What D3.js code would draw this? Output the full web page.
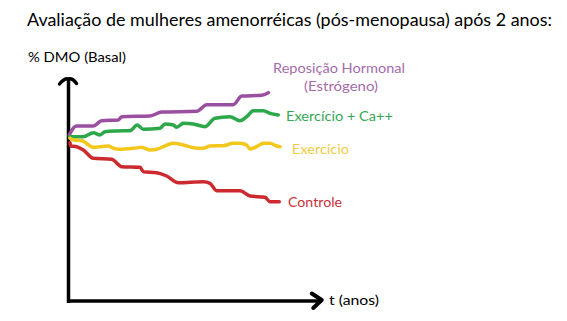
<!DOCTYPE html>
<html><head><meta charset="utf-8">
<script src="https://cdn.jsdelivr.net/npm/d3@7"></script>
<style>html,body{margin:0;padding:0;background:#fff;}svg{display:block;}</style>
</head><body>
<svg id="c" width="567" height="321"></svg>
<script>
// time in months, value in % of baseline BMD
const reposicao = [[0.15,100.2],[0.69,100.97],[0.99,101.1],[2.89,101.1],[3.85,101.63],[5.75,101.7],[6.14,102.03],[9.37,102.1],[10.71,102.5],[14.71,102.57],[15.85,103.23],[18.89,103.23],[19.85,104.1],[22.14,104.17],[22.89,104.43]];
const exercicioCa = [[0.15,100.03],[1.75,100.03],[2.89,100.43],[3.66,100.2],[4.23,100.53],[5.57,100.6],[7.09,100.63],[7.92,101.2],[8.61,100.77],[10.51,100.87],[11.09,101.3],[12.03,101.2],[12.42,100.97],[13.18,101.37],[14.32,101.3],[15.66,101.03],[16.8,101.87],[18.51,102.03],[19.66,101.63],[20.42,102.03],[21.18,102.63],[22.32,102.63],[23.09,102.37],[24.03,102.2]];
const exercicio = [[0.23,99.87],[0.61,99.7],[1.57,99.63],[2.89,98.97],[3.66,99.03],[4.61,99.1],[5.18,98.87],[5.94,98.77],[7.46,98.87],[8.42,98.97],[9.37,98.7],[10.14,98.77],[10.89,99.03],[12.03,99.37],[13.18,99.2],[14.32,98.93],[15.46,98.87],[16.23,99.1],[17.75,99.13],[18.89,99.37],[19.66,99.37],[20.42,99.2],[20.8,98.8],[21.57,99.03],[22.32,99.37],[23.09,99.37],[23.85,99.1],[24.23,99.03]];
const controle = [[0.23,99.43],[0.31,99.1],[0.99,99.03],[1.75,98.7],[2.89,97.87],[4.99,97.77],[6.14,97.03],[8.23,96.97],[8.61,96.53],[10.14,96.43],[11.28,96.1],[12.61,95.43],[15.46,95.53],[16.23,95.37],[16.99,94.63],[19.66,94.63],[20.8,94.1],[22.51,93.97],[23.09,93.53],[24.15,93.53]];

const title = "Avaliação de mulheres amenorréicas (pós-menopausa) após 2 anos:";
const yLabel = "% DMO (Basal)";
const xLabel = "t (anos)";
const seriesNames = [["Reposição Hormonal","(Estrógeno)"],["Exercício + Ca++"],["Exercício"],["Controle"]];

const svg = d3.select("#c");
const x = d3.scaleLinear().domain([0,29]).range([68,321.75]);
const y = d3.scaleLinear().domain([83.4,105.8]).range([303,79]);
const FONT = "Lato, 'Open Sans', sans-serif";

function txt(s, x0, yb, size, color, len, anchor){
  const t = svg.append("text").attr("x",x0).attr("y",yb).attr("font-family",FONT)
    .attr("font-size",size).attr("fill",color).text(s);
  if(anchor) t.attr("text-anchor",anchor);
  if(len) t.attr("textLength",len).attr("lengthAdjust","spacingAndGlyphs");
  return t;
}

// Title & axis labels
txt(title, 27, 26, 18, "#000", 525);
txt(yLabel, 28, 62, 12.5, "#000", 98);
txt(xLabel, 329, 305, 13.5, "#000", 50);

// Axes
const x0 = x(0)+0.5, yBase = 301;
svg.append("line").attr("x1",x0).attr("x2",x0).attr("y1",y(83.4)).attr("y2",y(105.8))
  .attr("stroke","#000").attr("stroke-width",3.5);
svg.append("line").attr("x1",x0-1.5).attr("x2",x(29)).attr("y1",yBase).attr("y2",yBase)
  .attr("stroke","#000").attr("stroke-width",3.5);
// arrowheads
svg.append("path").attr("d",`M${x0-9},${y(105.8)+5} Q${x0-4},${y(105.8)-1} ${x0},${y(105.8)} Q${x0+4},${y(105.8)-1} ${x0+8},${y(105.8)+4.5}`)
  .attr("fill","none").attr("stroke","#000").attr("stroke-width",3.5).attr("stroke-linecap","round");
svg.append("path").attr("d",`M${x(29)-10},${yBase-7.5} L${x(29)},${yBase-1} L${x(29)-8.5},${yBase+7}`)
  .attr("fill","none").attr("stroke","#000").attr("stroke-width",4).attr("stroke-linejoin","round").attr("stroke-linecap","round");

const line = d3.line().x(d=>x(d[0])).y(d=>y(d[1])).curve(d3.curveMonotoneX);
const series = [
  {data:reposicao, color:"#9b4fa1"},
  {data:exercicioCa, color:"#2ca84a"},
  {data:exercicio, color:"#f3c71c"},
  {data:controle, color:"#cc2a2e"}
];
series.forEach(s=>{
  svg.append("path").datum(s.data).attr("d",line).attr("fill","none")
    .attr("stroke",s.color).attr("stroke-width",3.5)
    .attr("stroke-linejoin","round").attr("stroke-linecap","round");
});

// series labels
txt(seriesNames[0][0], 339, 73, 14, "#a56bab", 132, "middle");
txt(seriesNames[0][1], 341, 91, 14, "#a56bab", 74, "middle");
txt(seriesNames[1][0], 286, 121, 14, "#35a856", 107);
txt(seriesNames[2][0], 292, 154, 14, "#f2cc44", 57);
txt(seriesNames[3][0], 288, 207, 14, "#c8303a", 54);
</script>
</body></html>
